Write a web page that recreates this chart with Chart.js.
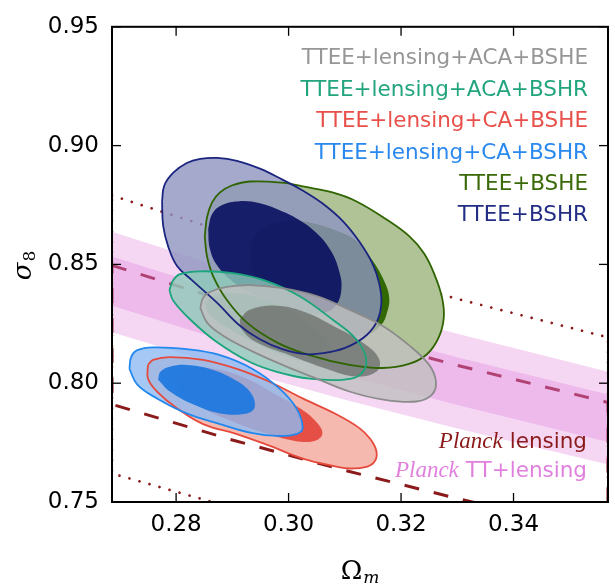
<!DOCTYPE html>
<html><head><meta charset="utf-8">
<script src="https://cdn.jsdelivr.net/npm/chart.js@4.4.0/dist/chart.umd.min.js"></script>
<style>html,body{margin:0;padding:0;background:#fff;}</style>
</head><body>
<canvas id="c" width="615" height="585"></canvas>
<script>
// ---------- data ----------
const xTicks = [0.28, 0.30, 0.32, 0.34];
const yTicks = [0.75, 0.80, 0.85, 0.90, 0.95];

// Planck curves sampled at these Omega_m values
const bandOm = [0.2686, 0.29, 0.31, 0.33, 0.3568];
const lens2sUpper = [0.8790, 0.8626, 0.8485, 0.8355, 0.8193];
const lens2sLower = [0.7620, 0.7476, 0.7353, 0.7238, 0.7096];
const lens1sUpper = [0.8496, 0.8337, 0.8201, 0.8075, 0.7919];
const lens1sLower = [0.7911, 0.7761, 0.7633, 0.7515, 0.7367];
const ttl2sUpper = [0.8637, 0.8475, 0.8336, 0.8208, 0.8048];
const ttl2sLower = [0.8214, 0.8061, 0.7930, 0.7809, 0.7658];
const ttl1sUpper = [0.8533, 0.8373, 0.8236, 0.8109, 0.7952];
const ttl1sLower = [0.8326, 0.8168, 0.8033, 0.7908, 0.7753];

// contours [Omega_m, sigma_8]
const navyOuter = [[0.2775,0.8766],[0.2779,0.8832],[0.2795,0.8886],[0.2819,0.8927],[0.2843,0.8944],[0.2873,0.8948],[0.2908,0.8936],[0.2949,0.8903],[0.2989,0.8857],[0.3025,0.8811],[0.3060,0.8757],[0.3096,0.8683],[0.3126,0.8595],[0.3149,0.8504],[0.3161,0.8421],[0.3165,0.8338],[0.3158,0.8264],[0.3140,0.8205],[0.3108,0.8156],[0.3073,0.8131],[0.3032,0.8122],[0.2989,0.8143],[0.2949,0.8185],[0.2913,0.8243],[0.2873,0.8338],[0.2828,0.8434],[0.2802,0.8492],[0.2786,0.8575],[0.2777,0.8662]];
const navyInner = [[0.2857,0.8649],[0.2864,0.8712],[0.2881,0.8749],[0.2913,0.8766],[0.2949,0.8757],[0.2984,0.8728],[0.3019,0.8687],[0.3051,0.8629],[0.3076,0.8554],[0.3090,0.8471],[0.3094,0.8400],[0.3085,0.8330],[0.3064,0.8297],[0.3028,0.8297],[0.2984,0.8330],[0.2940,0.8371],[0.2904,0.8421],[0.2874,0.8492],[0.2860,0.8566]];
const greenOuter = [[0.2851,0.8616],[0.2855,0.8699],[0.2864,0.8761],[0.2878,0.8803],[0.2899,0.8832],[0.2931,0.8849],[0.2989,0.8844],[0.3025,0.8828],[0.3078,0.8803],[0.3120,0.8766],[0.3173,0.8691],[0.3214,0.8620],[0.3241,0.8546],[0.3260,0.8454],[0.3273,0.8359],[0.3276,0.8276],[0.3267,0.8193],[0.3246,0.8122],[0.3214,0.8081],[0.3166,0.8064],[0.3108,0.8077],[0.3037,0.8118],[0.2979,0.8172],[0.2926,0.8255],[0.2890,0.8351],[0.2866,0.8450],[0.2855,0.8533]];
const greenInner = [[0.2931,0.8558],[0.2940,0.8620],[0.2963,0.8662],[0.2993,0.8683],[0.3019,0.8683],[0.3055,0.8666],[0.3090,0.8637],[0.3120,0.8600],[0.3149,0.8517],[0.3170,0.8430],[0.3179,0.8359],[0.3175,0.8297],[0.3165,0.8247],[0.3140,0.8205],[0.3099,0.8205],[0.3046,0.8255],[0.2993,0.8330],[0.2952,0.8413],[0.2935,0.8483]];
const tealOuter = [[0.2788,0.8392],[0.2795,0.8434],[0.2807,0.8459],[0.2843,0.8471],[0.2901,0.8463],[0.2961,0.8430],[0.3019,0.8367],[0.3078,0.8268],[0.3120,0.8185],[0.3138,0.8102],[0.3129,0.8039],[0.3099,0.8015],[0.3037,0.8019],[0.2979,0.8048],[0.2931,0.8089],[0.2873,0.8172],[0.2825,0.8268],[0.2795,0.8347]];
const tealInner = [[0.2851,0.8338],[0.2869,0.8371],[0.2904,0.8380],[0.2949,0.8359],[0.3002,0.8305],[0.3046,0.8234],[0.3073,0.8160],[0.3073,0.8110],[0.3046,0.8089],[0.3002,0.8110],[0.2949,0.8160],[0.2896,0.8226],[0.2860,0.8288]];
const grayOuter = [[0.2843,0.8317],[0.2848,0.8359],[0.2860,0.8384],[0.2890,0.8405],[0.2931,0.8413],[0.2989,0.8400],[0.3050,0.8367],[0.3108,0.8309],[0.3166,0.8243],[0.3214,0.8160],[0.3250,0.8077],[0.3262,0.8006],[0.3255,0.7952],[0.3227,0.7923],[0.3166,0.7932],[0.3108,0.7965],[0.3050,0.8019],[0.2989,0.8077],[0.2931,0.8139],[0.2883,0.8201],[0.2855,0.8255]];
const grayInner = [[0.2913,0.8268],[0.2931,0.8309],[0.2979,0.8326],[0.3032,0.8297],[0.3078,0.8243],[0.3131,0.8172],[0.3161,0.8102],[0.3156,0.8048],[0.3120,0.8028],[0.3067,0.8061],[0.3002,0.8118],[0.2943,0.8172],[0.2917,0.8226]];
const redOuter = [[0.2750,0.8077],[0.2759,0.8098],[0.2789,0.8110],[0.2848,0.8098],[0.2908,0.8060],[0.2966,0.8006],[0.3025,0.7936],[0.3085,0.7869],[0.3126,0.7811],[0.3145,0.7766],[0.3156,0.7716],[0.3154,0.7674],[0.3140,0.7649],[0.3108,0.7641],[0.3085,0.7649],[0.3025,0.7683],[0.2966,0.7737],[0.2908,0.7786],[0.2848,0.7828],[0.2802,0.7894],[0.2766,0.7965],[0.2750,0.8019]];
const redInner = [[0.2802,0.8039],[0.2825,0.8064],[0.2869,0.8060],[0.2922,0.8023],[0.2975,0.7956],[0.3023,0.7890],[0.3051,0.7832],[0.3060,0.7786],[0.3046,0.7757],[0.3011,0.7757],[0.2958,0.7790],[0.2904,0.7836],[0.2851,0.7890],[0.2816,0.7952],[0.2804,0.7998]];
const blueOuter = [[0.2717,0.8060],[0.2720,0.8110],[0.2731,0.8139],[0.2759,0.8151],[0.2819,0.8143],[0.2878,0.8118],[0.2936,0.8060],[0.2984,0.7977],[0.3014,0.7894],[0.3025,0.7811],[0.3014,0.7786],[0.2979,0.7778],[0.2936,0.7790],[0.2878,0.7828],[0.2819,0.7873],[0.2766,0.7936],[0.2731,0.7994]];
const blueInner = [[0.2768,0.8015],[0.2772,0.8048],[0.2789,0.8069],[0.2819,0.8077],[0.2860,0.8060],[0.2901,0.8019],[0.2931,0.7965],[0.2940,0.7902],[0.2926,0.7873],[0.2878,0.7873],[0.2830,0.7911],[0.2789,0.7965]];

const legendLabels = ['TTEE+lensing+ACA+BSHE','TTEE+lensing+ACA+BSHR','TTEE+lensing+CA+BSHE','TTEE+lensing+CA+BSHR','TTEE+BSHE','TTEE+BSHR'];
const legendColors = ['#969696','#22a57e','#e8504a','#2a88ee','#3a6a08','#232d84'];

// ---------- helpers ----------
function closed(arr){ const p = arr.map(([x,y])=>({x,y})); p.push({x:arr[0][0],y:arr[0][1]}); return p; }
function band(om, up, lo){
  const p = om.map((x,i)=>({x,y:up[i]})).concat(om.map((x,i)=>({x,y:lo[i]})).reverse());
  p.push({x:p[0].x,y:p[0].y}); return p;
}
const fillDs = (arr, color) => ({data: closed(arr), backgroundColor: color, borderWidth: 0, fill: 'shape', tension: 0.4});
const edgeDs = (arr, color) => ({data: closed(arr), borderColor: color, borderWidth: 1.8, fill: false, tension: 0.4});

const layers = [
  {data: band(bandOm, lens2sUpper, lens2sLower), borderColor:'#8b1a1a', borderWidth:2.7, borderDash:[0.01,10.4], borderCapStyle:'round', fill:false, tension:0},
  {data: band(bandOm, lens1sUpper, lens1sLower), borderColor:'#8b1a1a', borderWidth:3, borderDash:[15,15], fill:false, tension:0},
  {data: band(bandOm, ttl2sUpper, ttl2sLower), backgroundColor:'rgba(218,112,214,0.28)', borderWidth:0, fill:'shape', tension:0},
  {data: band(bandOm, ttl1sUpper, ttl1sLower), backgroundColor:'rgba(218,112,214,0.28)', borderWidth:0, fill:'shape', tension:0},
  fillDs(greenOuter, 'rgb(175,195,150)'),
  fillDs(greenInner, 'rgb(50,104,2)'),
  fillDs(navyOuter, 'rgba(142,149,192,0.8)'),
  fillDs(navyInner, 'rgba(1,7,91,0.85)'),
  fillDs(tealOuter, 'rgba(142,205,186,0.8)'),
  fillDs(tealInner, 'rgba(70,175,145,0.8)'),
  fillDs(grayOuter, 'rgba(192,192,192,0.8)'),
  fillDs(grayInner, 'rgba(105,108,106,0.75)'),
  fillDs(redOuter, 'rgba(242,167,155,0.8)'),
  fillDs(redInner, 'rgba(228,68,58,0.9)'),
  fillDs(blueOuter, 'rgba(142,186,243,0.8)'),
  fillDs(blueInner, 'rgba(26,117,223,0.9)'),
  edgeDs(greenOuter, '#2f6400'),
  edgeDs(navyOuter, '#1b2580'),
  edgeDs(tealOuter, '#1aa57a'),
  edgeDs(grayOuter, '#8c8c8c'),
  edgeDs(redOuter, '#e54a3c'),
  edgeDs(blueOuter, '#2288ee')
];
const datasets = layers.map((d,i)=>Object.assign({pointRadius:0, pointHoverRadius:0, spanGaps:true}, d, {order: layers.length - i}));

// ---------- decorations: frame, inward ticks, text ----------
const decor = {
  id: 'decor',
  afterDraw(chart){
    const ctx = chart.ctx, a = chart.chartArea, xs = chart.scales.x, ys = chart.scales.y;
    ctx.save();
    ctx.strokeStyle = '#000';
    ctx.lineWidth = 1.3;
    const seg = (x1,y1,x2,y2)=>{ctx.beginPath(); ctx.moveTo(x1,y1); ctx.lineTo(x2,y2); ctx.stroke();};
    xTicks.forEach(v=>{const p = xs.getPixelForValue(v); seg(p,a.bottom,p,a.bottom-9); seg(p,a.top,p,a.top+9);});
    yTicks.forEach(v=>{const p = ys.getPixelForValue(v); seg(a.left,p,a.left+9,p); seg(a.right,p,a.right-9,p);});
    ctx.lineWidth = 2;
    ctx.strokeRect(a.left, a.top, a.right-a.left, a.bottom-a.top);

    // legend of contours
    ctx.textAlign = 'right'; ctx.textBaseline = 'alphabetic';
    ctx.font = '21.5px "DejaVu Sans"';
    legendLabels.forEach((t,i)=>{ ctx.fillStyle = legendColors[i]; ctx.fillText(t, a.right-20, a.top+37.5+i*31.4); });

    // Planck labels
    const planck = (rest, color, y) => {
      const R = a.right - 21;
      ctx.fillStyle = color;
      ctx.font = '21.5px "DejaVu Sans"';
      const w = ctx.measureText(rest).width;
      ctx.fillText(rest, R, y);
      ctx.font = 'italic 23px "Liberation Serif"';
      ctx.fillText('Planck', R - w - 7, y);
    };
    planck('lensing', '#8b1a1a', a.bottom-53.7);
    planck('TT+lensing', '#e080de', a.bottom-25.3);

    // x title: Omega_m
    ctx.fillStyle = '#000'; ctx.textAlign = 'left';
    ctx.font = '26px "DejaVu Serif"';
    const wO = ctx.measureText('\u03A9').width;
    ctx.font = 'italic 17px "DejaVu Serif"';
    const wm = ctx.measureText('m').width;
    const cx = (a.left + a.right)/2;
    let x0 = cx - (wO + 1 + wm)/2;
    ctx.font = '26px "DejaVu Serif"'; ctx.fillText('\u03A9', x0, 579);
    ctx.font = 'italic 17px "DejaVu Serif"'; ctx.fillText('m', x0 + wO + 1, 583);

    // y title: sigma_8 (rotated)
    ctx.translate(31, (a.top + a.bottom)/2 + 1);
    ctx.rotate(-Math.PI/2);
    ctx.font = 'italic 26px "DejaVu Serif"';
    const ws = ctx.measureText('\u03C3').width;
    ctx.font = '17px "DejaVu Serif"';
    const w8 = ctx.measureText('8').width;
    x0 = -(ws + 1 + w8)/2;
    ctx.font = 'italic 26px "DejaVu Serif"'; ctx.fillText('\u03C3', x0, 0);
    ctx.font = '17px "DejaVu Serif"'; ctx.fillText('8', x0 + ws + 1, 4);
    ctx.restore();
  }
};

Chart.defaults.font.family = '"DejaVu Sans"';
new Chart(document.getElementById('c'), {
  type: 'line',
  data: { datasets },
  options: {
    responsive: false,
    animation: false,
    events: [],
    layout: { padding: { top: 20, right: 7, left: 0, bottom: 0 } },
    plugins: { legend: { display: false }, tooltip: { enabled: false } },
    scales: {
      x: {
        type: 'linear', min: 0.2686, max: 0.3568,
        grid: { display: false, drawTicks: false },
        border: { display: false },
        afterBuildTicks: ax => { ax.ticks = xTicks.map(v=>({value:v})); },
        afterFit: s => { s.height = 83; },
        ticks: { autoSkip: false, maxRotation: 0, padding: 9, color: '#000', font: { size: 23 }, callback: v => Number(v).toFixed(2) }
      },
      y: {
        type: 'linear', min: 0.75, max: 0.95,
        grid: { display: false, drawTicks: false },
        border: { display: false },
        afterBuildTicks: ax => { ax.ticks = yTicks.map(v=>({value:v})); },
        afterFit: s => { s.width = 112; },
        ticks: { autoSkip: false, padding: 13, color: '#000', font: { size: 23 }, callback: v => Number(v).toFixed(2) }
      }
    }
  },
  plugins: [decor]
});
</script>
</body></html>
